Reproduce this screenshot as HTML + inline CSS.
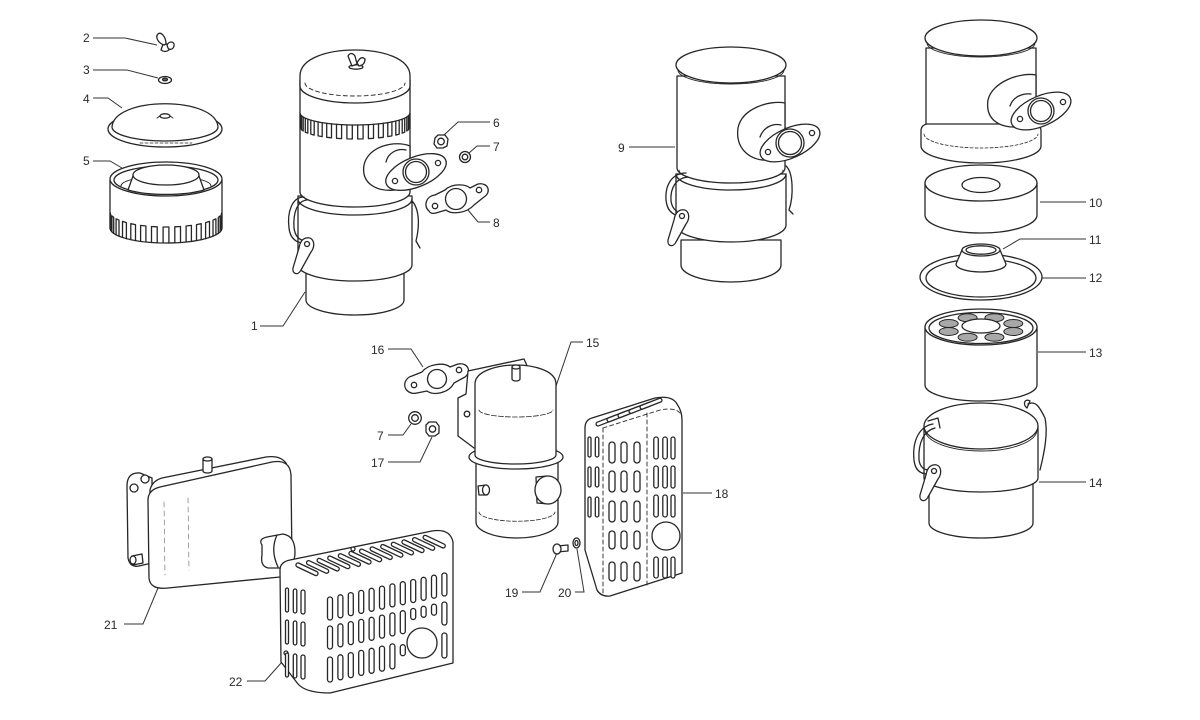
<!DOCTYPE html>
<html><head><meta charset="utf-8">
<style>
html,body{margin:0;padding:0;background:#fff;}
svg{display:block}
text{font-family:"Liberation Sans",Arial,sans-serif;font-size:12px;fill:#2a2a2a}
</style></head><body>
<svg id="svg" width="1200" height="720" viewBox="0 0 1200 720" xmlns="http://www.w3.org/2000/svg">
<rect width="1200" height="720" fill="#fff"/>

<!-- leader lines -->
<g fill="none" stroke="#333" stroke-width="1">
<path d="M93,38 L125,38 L157,45"/>
<path d="M93,70 L127,70 L158,78"/>
<path d="M93,98 L108,98 L122,108"/>
<path d="M93,161 L110,161 L122,168"/>
<path d="M260,326 L283,326 L305,292"/>
<path d="M490,122 L458,122 L444,135"/>
<path d="M490,146 L477,146 L469,153"/>
<path d="M490,222 L478,222 L468,210"/>
<path d="M629,147 L675,147"/>
<path d="M1040,202 L1086,202"/>
<path d="M1003,249 L1020,239 L1086,239"/>
<path d="M1042,278 L1086,278"/>
<path d="M1038,352 L1086,352"/>
<path d="M1039,482 L1086,482"/>
<path d="M583,342 L571,342 L554,392"/>
<path d="M388,349 L411,349 L423,367"/>
<path d="M388,435 L403,435 L411,424"/>
<path d="M388,462 L420,462 L432,437"/>
<path d="M683,493 L712,493"/>
<path d="M522,592 L540,592 L557,553"/>
<path d="M575,592 L584,592 L577,549"/>
<path d="M124,624 L143,624 L158,588"/>
<path d="M247,681 L265,681 L282,662"/>
</g>

<!-- labels -->
<text x="83" y="42">2</text>
<text x="83" y="74">3</text>
<text x="83" y="103">4</text>
<text x="83" y="165">5</text>
<text x="251" y="330">1</text>
<text x="493" y="127">6</text>
<text x="493" y="151">7</text>
<text x="493" y="227">8</text>
<text x="618" y="152">9</text>
<text x="1089" y="207">10</text>
<text x="1089" y="244">11</text>
<text x="1089" y="282">12</text>
<text x="1089" y="357">13</text>
<text x="1089" y="487">14</text>
<text x="586" y="347">15</text>
<text x="371" y="354">16</text>
<text x="377" y="440">7</text>
<text x="371" y="467">17</text>
<text x="715" y="498">18</text>
<text x="505" y="597">19</text>
<text x="558" y="597">20</text>
<text x="104" y="629">21</text>
<text x="229" y="686">22</text>

<g id="main" fill="#fff" stroke="#262626" stroke-width="1.3" stroke-linejoin="round" stroke-linecap="round">

<!-- ===== Part 2 wing nut ===== -->
<path d="M163,44 L161,50 Q165,53 169,50 L168,44 Z"/>
<path d="M164,45 C158,43 155,37 158,34 C161,31 166,37 166,44 Z"/>
<path d="M167,45 C170,40 175,42 174,46 C173,50 169,50 168,48 Z"/>

<!-- ===== Part 3 washer ===== -->
<ellipse cx="165" cy="80" rx="6.5" ry="3.5"/>
<ellipse cx="165" cy="79.5" rx="2.5" ry="1.3" fill="#666"/>

<!-- ===== Part 4 cover ===== -->
<ellipse cx="165" cy="129" rx="57" ry="18"/>
<path d="M112,127 C114,96 216,96 218,127 A53,14 0 0 1 112,127 Z"/>
<ellipse cx="165" cy="116" rx="5" ry="2.2"/>
<path d="M160,116 L157,118 M170,116 L173,118" fill="none" stroke-width="1"/>
<path d="M140,143 L192,143" fill="none" stroke-dasharray="3 2" stroke-width="0.8"/>

<!-- ===== Part 5 filter ===== -->
<path d="M110,180 L110,228 A56,15 0 0 0 222,228 L222,180 Z"/>
<ellipse cx="166" cy="179" rx="56" ry="17"/>
<ellipse cx="166" cy="180" rx="52" ry="14"/>
<path d="M121,186 A45,10 0 0 1 211,186" fill="none" stroke-width="1"/>
<path d="M133,176 L128,190 A52,14 0 0 0 204,190 L199,176 Z"/>
<ellipse cx="166" cy="175" rx="33" ry="10"/>
<g id="slots5"></g>

<!-- ===== Assembly 1 ===== -->
<path d="M408,198 C418,203 421,220 416,241 L420,248" fill="none"/>
<path d="M306,262 L306,300 A49,15 0 0 0 404,300 L404,262 Z"/>
<path d="M298,196 L298,265 A57,16 0 0 0 412,265 L412,196 Z"/>
<path d="M300,80 L300,192 A55,15 0 0 0 410,192 L410,80 Z"/>
<path d="M298,199 A57,16 0 0 0 412,199" fill="none"/>
<path d="M300,86 L300,76 C300,58 328,50 355,50 C382,50 410,58 410,76 L410,86 A55,17 0 0 1 300,86 Z"/>
<path d="M305,83 A50,13 0 0 0 405,83" fill="none" stroke-dasharray="4 3" stroke-width="0.9"/>
<!-- wing nut on top -->
<ellipse cx="356" cy="67" rx="7" ry="2.2"/>
<path d="M352,66 L348,56 Q351,51 355,56 L357,64 Z"/>
<path d="M357,63 Q361,55 365,59 Q365,65 359,66 Z"/>
<path d="M300,113 A55,12 0 0 0 410,113" fill="none"/>
<g id="slots1"></g>
<!-- inlet -->
<path d="M410,146 C395,140 368,146 364,165 C361,183 376,192 395,190 L410,188 Z"/>
<path d="M386,162 C388,153 397,148 406,150" fill="none"/>
<ellipse cx="416" cy="172" rx="32" ry="15" transform="rotate(-22 416 172)"/>
<circle cx="416" cy="172" r="13"/>
<circle cx="416" cy="172" r="10.5"/>
<circle cx="395" cy="181" r="2.6"/>
<circle cx="438" cy="163" r="2.6"/>
<!-- left clamp -->
<path d="M304,197 C292,197 287,212 289,228 C290,238 296,243 304,243" fill="none"/>
<path d="M307,200 C297,201 293,213 294,228 C295,236 299,240 305,241" fill="none"/>
<path id="lever" d="M306,238 C314,236 316,246 311,252 L301,270 C298,276 292,274 293,268 L299,248 C300,242 302,239 306,238 Z"/>
<circle cx="307" cy="244" r="2.5"/>

<!-- ===== Parts 6,7,8 ===== -->
<path d="M435,138 L438,135 L445,135 L448,139 L447,146 L443,148 L437,148 L434,144 Z"/>
<circle cx="441" cy="141.5" r="3.3"/>
<circle cx="465" cy="157" r="5.5"/>
<circle cx="465" cy="157" r="2.8"/>
<path d="M429,211 C423,206 426,196 435,195 L445,190 C452,183 466,184 470,188 L478,184 C488,182 492,192 484,197 L474,205 C467,213 452,215 446,210 L436,213 C432,214 430,213 429,211 Z"/>
<circle cx="456" cy="199" r="10.5"/>
<circle cx="435" cy="206" r="2.7"/>
<circle cx="479" cy="190" r="2.7"/>

<!-- ===== Assembly 9 ===== -->
<path d="M786,166 C793,172 794,195 789,210 L793,214" fill="none"/>
<path d="M681,240 L681,265 A50,17 0 0 0 781,265 L781,240 Z"/>
<path d="M676,174 L676,225 A55,17 0 0 0 786,225 L786,174 Z"/>
<path d="M677,76 L677,168 A54,15 0 0 0 785,168 L785,76 Z"/>
<path d="M676,174 A55,16 0 0 0 786,174" fill="none"/>
<path d="M679,170 A52,13 0 0 0 783,170" fill="none" stroke-dasharray="3 2" stroke-width="0.8"/>
<ellipse cx="731" cy="65" rx="55" ry="18"/>
<path d="M678,70 A53,14 0 0 0 784,70" fill="none" stroke-width="0.9"/>
<path d="M785,103 C770,100 742,108 738,128 C735,150 752,162 770,160 L785,158 Z"/>
<path d="M760,137 C763,128 772,123 781,125" fill="none"/>
<ellipse cx="790" cy="143" rx="32" ry="15" transform="rotate(-24 790 143)"/>
<circle cx="790" cy="143" r="14"/>
<circle cx="790" cy="143" r="11.5"/>
<circle cx="768" cy="152" r="2.6"/>
<circle cx="812" cy="133" r="2.6"/>
<path d="M686,173 C672,173 665,185 666,200 C667,210 672,215 680,216" fill="none"/>
<path d="M688,177 C676,178 670,188 671,201 C672,208 676,212 681,213" fill="none"/>
<use href="#lever" transform="translate(375,-28)"/>
<circle cx="682" cy="216" r="2.5"/>

<!-- ===== Top right housing ===== -->
<path d="M926,48 L926,130 L1036,130 L1036,48 Z"/>
<path d="M921,131 Q921,125 927,124 L1035,124 Q1041,125 1041,131 L1041,146 A60,17 0 0 1 921,146 Z"/>
<path d="M924,134 A57,14 0 0 0 1038,134" fill="none" stroke-dasharray="3 2" stroke-width="0.8"/>
<ellipse cx="981" cy="38" rx="56" ry="18"/>
<path d="M927,43 A54,14 0 0 0 1035,43" fill="none" stroke-width="0.9"/>
<path d="M1036,75 C1020,72 992,82 988,100 C985,120 1000,128 1018,127 L1036,126 Z"/>
<path d="M1010,106 C1013,97 1022,93 1031,94" fill="none"/>
<ellipse cx="1041" cy="111" rx="32" ry="15" transform="rotate(-24 1041 111)"/>
<circle cx="1041" cy="111" r="13"/>
<circle cx="1041" cy="111" r="10.5"/>
<circle cx="1020" cy="119" r="2.6"/>
<circle cx="1063" cy="102" r="2.6"/>

<!-- ===== Element 10 ===== -->
<path d="M925,183 L925,215 A56,18 0 0 0 1037,215 L1037,183 Z"/>
<ellipse cx="981" cy="183" rx="56" ry="18"/>
<ellipse cx="981" cy="185" rx="19" ry="7.5"/>

<!-- ===== Ring 12 & cup 11 ===== -->
<ellipse cx="981" cy="277" rx="61" ry="23" fill="none"/>
<ellipse cx="981" cy="278" rx="55" ry="19" fill="none"/>
<path d="M962,250 L956,264 A25,8 0 0 0 1006,264 L1000,250 Z"/>
<ellipse cx="981" cy="250" rx="19" ry="6"/>
<ellipse cx="981" cy="250" rx="15" ry="4.2"/>

<!-- ===== Filter 13 ===== -->
<path d="M925,327 L925,385 A56,16 0 0 0 1037,385 L1037,327 Z"/>
<ellipse cx="981" cy="327" rx="56" ry="18"/>
<ellipse cx="981" cy="328" rx="52" ry="15.5"/>
<g id="pock"></g>
<ellipse cx="981" cy="326" rx="19" ry="7"/>

<!-- ===== Canister 14 ===== -->
<path d="M1028,404 C1036,400 1040,408 1045,418 C1048,432 1045,450 1040,470" fill="none"/>
<path d="M1030,401 C1025,398 1022,404 1027,408 Z" fill="none"/>
<path d="M929,482 L929,523 A52,15 0 0 0 1033,523 L1033,482 Z"/>
<path d="M924,427 L924,478 A57,14 0 0 0 1038,478 L1038,427 Z"/>
<ellipse cx="981" cy="426" rx="57" ry="23"/>
<path d="M925,430 A56,21 0 0 0 1037,430" fill="none" stroke-width="0.9"/>
<path d="M933,424 C920,426 912,440 914,460 C915,470 920,474 928,474" fill="none"/>
<path d="M935,428 C924,431 918,442 919,460 C920,467 924,470 929,470" fill="none"/>
<path d="M928,421 L938,418 L940,428" fill="none"/>
<use href="#lever" transform="translate(627,227)"/>
<circle cx="934" cy="471" r="2.5"/>

<!-- ===== Part 16 gasket, 7 washer, 17 nut ===== -->
<path d="M409,392 C402,388 404,378 412,376 L422,372 C428,364 444,362 450,367 L458,364 C468,362 472,372 465,377 L454,383 C449,393 434,396 427,391 L417,393 C413,394 411,393 409,392 Z"/>
<circle cx="437" cy="379" r="9.5"/>
<circle cx="414" cy="385" r="2.7"/>
<circle cx="459" cy="370" r="2.7"/>
<circle cx="415" cy="418" r="6.3"/>
<circle cx="415" cy="418" r="3.3"/>
<path d="M426,425 L429,422 L436,422 L439,426 L439,433 L435,436 L429,436 L426,432 Z"/>
<circle cx="432.5" cy="429" r="3.2"/>

<!-- ===== Muffler 15 ===== -->
<path d="M458,398 L458,436 L474,448 L478,448 L478,386 L528,368 L524,359 L468,371 L466,394 Z"/>
<circle cx="467" cy="414" r="2.8"/>
<path d="M476,460 L476,522 A41,16 0 0 0 558,522 L558,460 Z"/>
<path d="M479,512 A37,9 0 0 0 555,512" fill="none" stroke-dasharray="4 2" stroke-width="0.8"/>
<ellipse cx="516" cy="457" rx="47" ry="12"/>
<path d="M475,455 L475,384 C475,370 500,365 516,365 C532,365 556,370 556,384 L556,455 A40.5,9 0 0 1 475,455 Z"/>
<path d="M479,410 A37,7 0 0 0 553,410" fill="none" stroke-dasharray="5 2" stroke-width="0.8"/>
<path d="M512,367 L512,379 A4,2 0 0 0 520,379 L520,367 Z"/>
<ellipse cx="516" cy="367" rx="4" ry="2"/>
<path d="M536,477 L547,476 L549,504 L537,503 Z"/>
<ellipse cx="548" cy="490" rx="13" ry="14"/>
<path d="M478,486 L486,485 L487,495 L479,495 Z"/>
<ellipse cx="486" cy="490" rx="3.5" ry="5"/>

<!-- bolt 19, washer 20 -->
<path d="M557,546 L568,545 L568,551 L557,552 Z"/>
<ellipse cx="557" cy="549" rx="4" ry="5"/>
<ellipse cx="576.5" cy="543" rx="3.5" ry="5"/>
<ellipse cx="576.5" cy="543" rx="1.5" ry="2.5"/>

<!-- ===== Shield 18 ===== -->
<path d="M585,428 Q585,420 592,418 L655,398 Q672,395 677,404 Q682,411 682,420 L682,573 L610,596 Q601,597 597,590 L585,550 Z"/>
<path d="M603,428 L603,594" fill="none" stroke-dasharray="4 3" stroke-width="0.9"/>
<path d="M647,413 L647,585" fill="none" stroke-dasharray="4 3" stroke-width="0.9"/>
<path d="M603,428 L660,410 Q675,407 680,413" fill="none" stroke-dasharray="4 3" stroke-width="0.9"/>
<circle cx="666" cy="536" r="14"/>
<g id="slots18"></g>

<!-- ===== Muffler 21 ===== -->
<path d="M152,478 L140,473 Q127,472 127,486 L128,558 Q130,568 139,566 L152,563 Z"/>
<circle cx="134" cy="488" r="4"/>
<circle cx="145" cy="479" r="4"/>
<path d="M132,556 L142,554 L143,563 L133,565 Z"/>
<ellipse cx="133" cy="560" rx="3" ry="4"/>
<path d="M150,490 Q152,481 162,478 L266,457 Q280,455 286,463 L291,475 L150,500 Z"/>
<path d="M148,500 Q148,490 160,487 L272,462 Q290,459 291,475 L292,565 Q292,575 280,577 L168,588 Q150,590 149,578 Z"/>
<path d="M164,502 L165,575 M188,498 L189,570" fill="none" stroke-dasharray="5 4" stroke-width="0.7" stroke="#777"/>
<path d="M203,459 L203,471 A4.5,2 0 0 0 212,471 L212,459 Z"/>
<ellipse cx="207.5" cy="459" rx="4.5" ry="2"/>
<path d="M262,545 Q258,539 267,537 L283,534 Q295,536 295,552 Q295,567 284,568 L268,568 Q260,566 262,555 Z"/>
<path d="M277,535 Q270,550 278,567" fill="none"/>

<!-- ===== Shield 22 ===== -->
<path d="M280,570 Q280,562 290,560 L432,531 Q450,528 453,542 L453,663 L330,693 Q306,693 298,684 L281,662 Z"/>
<circle cx="422" cy="643" r="15"/>
<circle cx="353" cy="549" r="2"/>
<circle cx="286" cy="653" r="2"/>
<g id="slots22"></g>

</g>
</svg>
<script>
(function(){
var NS="http://www.w3.org/2000/svg";
function add(p,t,a){var e=document.createElementNS(NS,t);for(var k in a)e.setAttribute(k,a[k]);p.appendChild(e);return e;}
function f(v){return v.toFixed(1);}
function ring(g,cx,cy,rx,ry,N,h,frac){
  var d='';
  for(var k=0;k<N;k++){
    var c=Math.PI*(k+0.5)/N, hw=Math.PI/N*frac/2, a=c-hw, b=c+hw;
    var xa=cx-rx*Math.cos(a), ya=cy+ry*Math.sin(a), xb=cx-rx*Math.cos(b), yb=cy+ry*Math.sin(b);
    d+='M'+f(xa)+','+f(ya)+'L'+f(xa)+','+f(ya+h)+'L'+f(xb)+','+f(yb+h)+'L'+f(xb)+','+f(yb);
  }
  add(g,'path',{d:d,fill:'none'});
}
function slot(g,x,y,w,h){add(g,'rect',{x:f(x-w/2),y:f(y),width:f(w),height:f(h),rx:f(w/2)});}
function bar(g,x1,y1,x2,y2,w){
  add(g,'path',{d:'M'+x1+','+y1+'L'+x2+','+y2,fill:'none',stroke:'#262626','stroke-width':w});
  add(g,'path',{d:'M'+x1+','+y1+'L'+x2+','+y2,fill:'none',stroke:'#fff','stroke-width':w-2.6});
}
ring(document.getElementById('slots5'),166,228,56,15,15,-16,0.5);
ring(document.getElementById('slots1'),355,113,55,12,16,14,0.5);
var pk=document.getElementById('pock');
for(var k=0;k<8;k++){
  var a=(k*45+22.5)*Math.PI/180;
  var cx=981+35*Math.cos(a), cy=327.5+10.5*Math.sin(a);
  add(pk,'ellipse',{cx:f(cx),cy:f(cy),rx:'9.5',ry:'4',fill:'#a8a8a8','stroke-width':'1'});
}
var g18=document.getElementById('slots18');
var mid=[612,624,637], rowsM=[[442,21],[471,21],[501,21],[531,18],[562,19]];
mid.forEach(function(x){rowsM.forEach(function(r){slot(g18,x,r[0],6,r[1]);});});
var rc=[656,665,673], rw=[4.5,4.5,4], rowsR=[[437,22],[466,22],[495,22],[557,21]];
rc.forEach(function(x,i){rowsR.forEach(function(r){slot(g18,x,r[0],rw[i],r[1]);});});
var lc=[589.5,597], lw=[3,3.5], rowsL=[[437,20],[467,20],[497,20]];
lc.forEach(function(x,i){rowsL.forEach(function(r){slot(g18,x,r[0],lw[i],r[1]);});});
for(var i=0;i<5;i++){bar(g18,598+i*11,424-i*4.2,616+i*11,417-i*4.2,5.2);}
var g22=document.getElementById('slots22');
for(var i=0;i<12;i++){
  var x=330+i*10.4, dy=-(x-330)*0.21;
  slot(g22,x,597+dy,5,23);
  if(i>=8&&i<=10){slot(g22,x,626+dy,5,11);} else {slot(g22,x,626+dy,5,23);}
  if(i==7){slot(g22,x,672+dy-12,5,11);}
  else if(i<7||i==11){slot(g22,x,657+dy,5,25);}
}
var lx=[287,295,303], lww=[3,3.5,4];
lx.forEach(function(x,j){[588,620,653].forEach(function(y){slot(g22,x,y+j,lww[j],24);});});
for(var i=0;i<13;i++){bar(g22,298+i*10.6,565-i*2.3,316+i*10.6,573.5-i*2.3,5.4);}
})();
</script>
</body></html>
